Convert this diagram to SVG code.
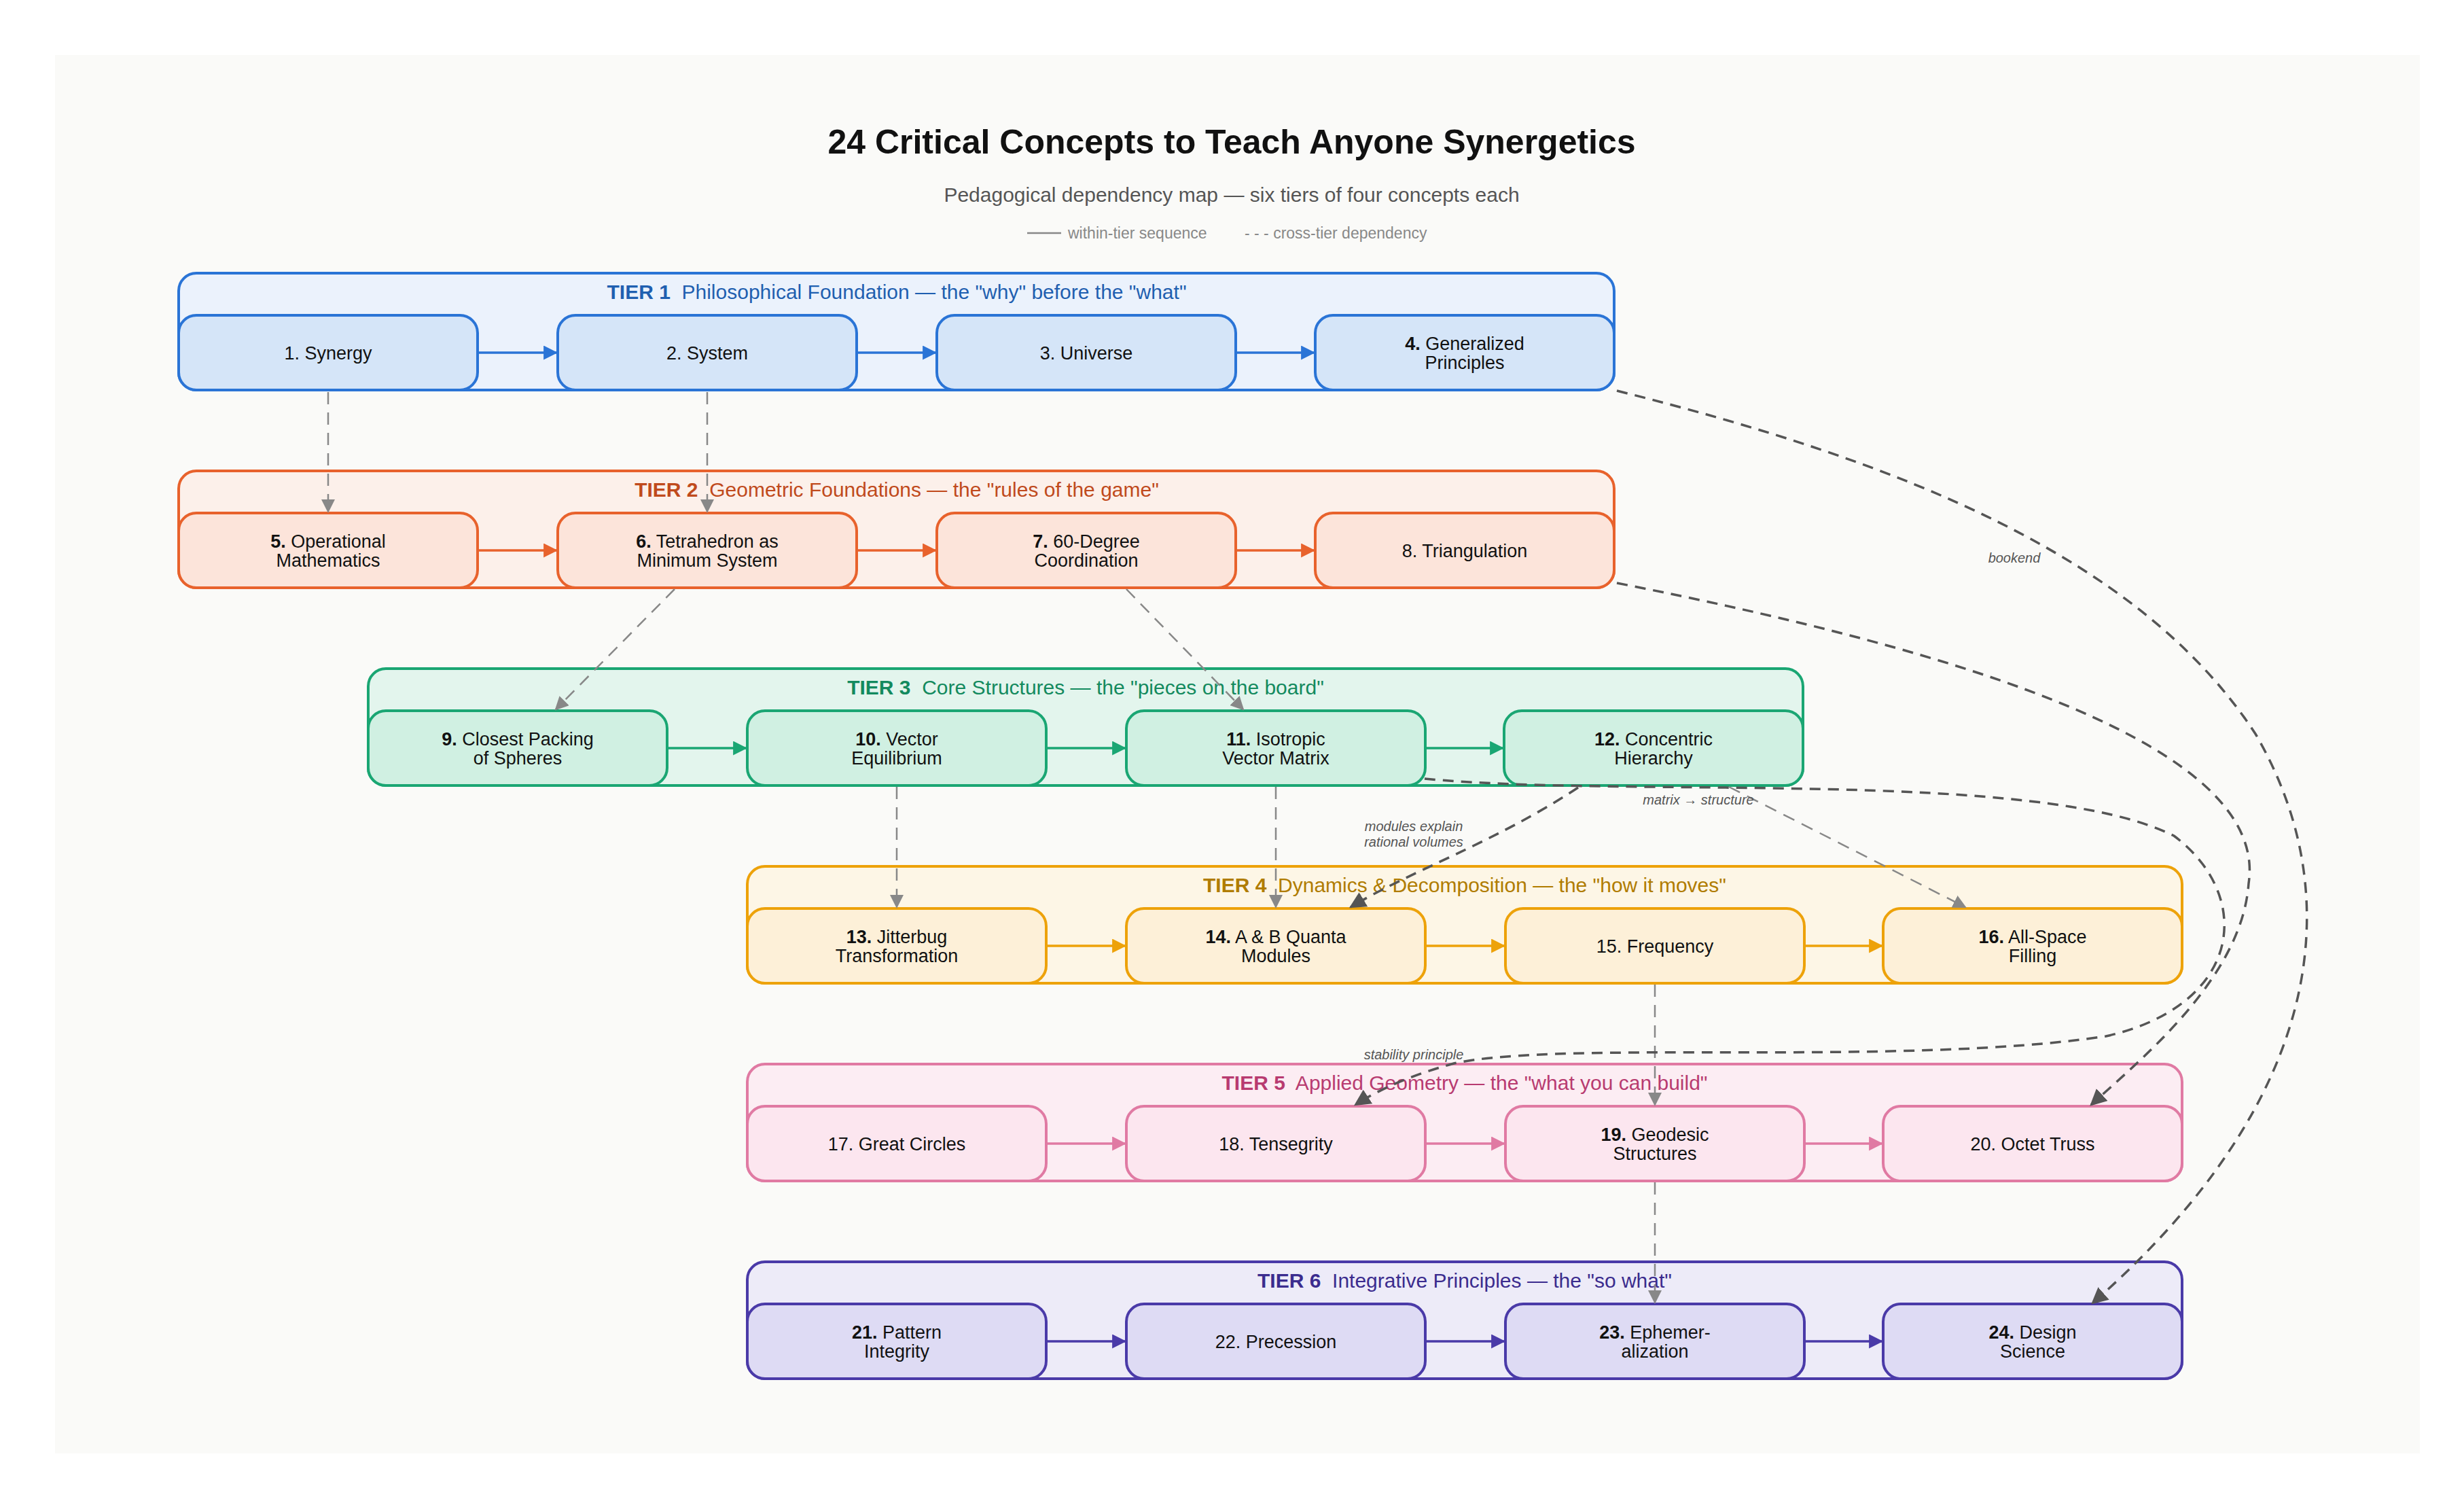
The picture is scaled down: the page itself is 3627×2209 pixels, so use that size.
<svg xmlns="http://www.w3.org/2000/svg" width="3627" height="2209" viewBox="0 0 3627 2209">
<defs>
<style>
text{font-family:"Liberation Sans",Arial,sans-serif}
.nt{font-size:27px;fill:#111;text-anchor:middle}
.hd{font-size:30px;text-anchor:middle}
.lb{font-size:20px;font-style:italic;fill:#555;text-anchor:middle}
.node{stroke-width:4}
.cont{stroke-width:4}
.gd{stroke:#888;stroke-width:2.5;stroke-dasharray:18 12;fill:none}
.dd{stroke:#555;stroke-width:3.5;stroke-dasharray:16 11;fill:none}
</style>
<marker id="mg" viewBox="0 0 10 10" refX="9" refY="5" markerWidth="8" markerHeight="8" orient="auto"><path d="M0,0L10,5L0,10z" fill="#888"/></marker>
<marker id="md" viewBox="0 0 10 10" refX="9" refY="5" markerWidth="7" markerHeight="7" orient="auto"><path d="M0,0L10,5L0,10z" fill="#555"/></marker>
<marker id="m1" viewBox="0 0 10 10" refX="9" refY="5" markerWidth="6" markerHeight="6" orient="auto"><path d="M0,0L10,5L0,10z" fill="#2a74d6"/></marker>
<marker id="m2" viewBox="0 0 10 10" refX="9" refY="5" markerWidth="6" markerHeight="6" orient="auto"><path d="M0,0L10,5L0,10z" fill="#e8622c"/></marker>
<marker id="m3" viewBox="0 0 10 10" refX="9" refY="5" markerWidth="6" markerHeight="6" orient="auto"><path d="M0,0L10,5L0,10z" fill="#1aa673"/></marker>
<marker id="m4" viewBox="0 0 10 10" refX="9" refY="5" markerWidth="6" markerHeight="6" orient="auto"><path d="M0,0L10,5L0,10z" fill="#eda20a"/></marker>
<marker id="m5" viewBox="0 0 10 10" refX="9" refY="5" markerWidth="6" markerHeight="6" orient="auto"><path d="M0,0L10,5L0,10z" fill="#e07aa3"/></marker>
<marker id="m6" viewBox="0 0 10 10" refX="9" refY="5" markerWidth="6" markerHeight="6" orient="auto"><path d="M0,0L10,5L0,10z" fill="#4a3aa8"/></marker>
</defs>
<rect width="3627" height="2209" fill="#ffffff"/>
<rect x="81" y="81" width="3481" height="2058" fill="#fafaf8"/>
<text x="1813" y="226" font-size="50" font-weight="bold" text-anchor="middle" fill="#111">24 Critical Concepts to Teach Anyone Synergetics</text>
<text x="1813" y="297" font-size="30" text-anchor="middle" fill="#555">Pedagogical dependency map — six tiers of four concepts each</text>
<g id="legend">
<line x1="1512" y1="343" x2="1562" y2="343" stroke="#888" stroke-width="2.5"/>
<text x="1572" y="351" font-size="23" fill="#888">within-tier sequence</text>
<text x="1832" y="351" font-size="23" fill="#888">- - - cross-tier dependency</text>
</g>

<g id="tier1">
<rect class="cont" x="263" y="402" width="2113" height="172" rx="26" fill="#ebf2fc" stroke="#2a74d6"/>
<text class="hd" x="1320" y="440" fill="#1f5fb0" xml:space="preserve"><tspan font-weight="bold">TIER 1</tspan>  Philosophical Foundation — the "why" before the "what"</text>
</g>
<g id="n1"><rect class="node" x="263" y="464" width="440" height="110" rx="26" fill="#d5e5f8" stroke="#2a74d6"/><text class="nt" x="483" y="529">1. Synergy</text></g>
<g id="n2"><rect class="node" x="821" y="464" width="440" height="110" rx="26" fill="#d5e5f8" stroke="#2a74d6"/><text class="nt" x="1041" y="529">2. System</text></g>
<g id="n3"><rect class="node" x="1379" y="464" width="440" height="110" rx="26" fill="#d5e5f8" stroke="#2a74d6"/><text class="nt" x="1599" y="529">3. Universe</text></g>
<g id="n4"><rect class="node" x="1936" y="464" width="440" height="110" rx="26" fill="#d5e5f8" stroke="#2a74d6"/><text class="nt" x="2156" y="515"><tspan font-weight="bold">4.</tspan> Generalized</text><text class="nt" x="2156" y="543">Principles</text></g>

<g id="tier2">
<rect class="cont" x="263" y="693" width="2113" height="172" rx="26" fill="#fcf0ea" stroke="#e8622c"/>
<text class="hd" x="1320" y="731" fill="#c04a1c" xml:space="preserve"><tspan font-weight="bold">TIER 2</tspan>  Geometric Foundations — the "rules of the game"</text>
</g>
<g id="n5"><rect class="node" x="263" y="755" width="440" height="110" rx="26" fill="#fce4da" stroke="#e8622c"/><text class="nt" x="483" y="806"><tspan font-weight="bold">5.</tspan> Operational</text><text class="nt" x="483" y="834">Mathematics</text></g>
<g id="n6"><rect class="node" x="821" y="755" width="440" height="110" rx="26" fill="#fce4da" stroke="#e8622c"/><text class="nt" x="1041" y="806"><tspan font-weight="bold">6.</tspan> Tetrahedron as</text><text class="nt" x="1041" y="834">Minimum System</text></g>
<g id="n7"><rect class="node" x="1379" y="755" width="440" height="110" rx="26" fill="#fce4da" stroke="#e8622c"/><text class="nt" x="1599" y="806"><tspan font-weight="bold">7.</tspan> 60-Degree</text><text class="nt" x="1599" y="834">Coordination</text></g>
<g id="n8"><rect class="node" x="1936" y="755" width="440" height="110" rx="26" fill="#fce4da" stroke="#e8622c"/><text class="nt" x="2156" y="820">8. Triangulation</text></g>

<g id="tier3">
<rect class="cont" x="542" y="984" width="2112" height="172" rx="26" fill="#e3f5ed" stroke="#1aa673"/>
<text class="hd" x="1598" y="1022" fill="#138a5e" xml:space="preserve"><tspan font-weight="bold">TIER 3</tspan>  Core Structures — the "pieces on the board"</text>
</g>
<g id="n9"><rect class="node" x="542" y="1046" width="440" height="110" rx="26" fill="#d0f0e2" stroke="#1aa673"/><text class="nt" x="762" y="1097"><tspan font-weight="bold">9.</tspan> Closest Packing</text><text class="nt" x="762" y="1125">of Spheres</text></g>
<g id="n10"><rect class="node" x="1100" y="1046" width="440" height="110" rx="26" fill="#d0f0e2" stroke="#1aa673"/><text class="nt" x="1320" y="1097"><tspan font-weight="bold">10.</tspan> Vector</text><text class="nt" x="1320" y="1125">Equilibrium</text></g>
<g id="n11"><rect class="node" x="1658" y="1046" width="440" height="110" rx="26" fill="#d0f0e2" stroke="#1aa673"/><text class="nt" x="1878" y="1097"><tspan font-weight="bold">11.</tspan> Isotropic</text><text class="nt" x="1878" y="1125">Vector Matrix</text></g>
<g id="n12"><rect class="node" x="2214" y="1046" width="440" height="110" rx="26" fill="#d0f0e2" stroke="#1aa673"/><text class="nt" x="2434" y="1097"><tspan font-weight="bold">12.</tspan> Concentric</text><text class="nt" x="2434" y="1125">Hierarchy</text></g>

<g id="tier4">
<rect class="cont" x="1100" y="1275" width="2112" height="172" rx="26" fill="#fdf6e6" stroke="#eda20a"/>
<text class="hd" x="2156" y="1313" fill="#b07c00" xml:space="preserve"><tspan font-weight="bold">TIER 4</tspan>  Dynamics &amp; Decomposition — the "how it moves"</text>
</g>
<g id="n13"><rect class="node" x="1100" y="1337" width="440" height="110" rx="26" fill="#fdf0d8" stroke="#eda20a"/><text class="nt" x="1320" y="1388"><tspan font-weight="bold">13.</tspan> Jitterbug</text><text class="nt" x="1320" y="1416">Transformation</text></g>
<g id="n14"><rect class="node" x="1658" y="1337" width="440" height="110" rx="26" fill="#fdf0d8" stroke="#eda20a"/><text class="nt" x="1878" y="1388"><tspan font-weight="bold">14.</tspan> A &amp; B Quanta</text><text class="nt" x="1878" y="1416">Modules</text></g>
<g id="n15"><rect class="node" x="2216" y="1337" width="440" height="110" rx="26" fill="#fdf0d8" stroke="#eda20a"/><text class="nt" x="2436" y="1402">15. Frequency</text></g>
<g id="n16"><rect class="node" x="2772" y="1337" width="440" height="110" rx="26" fill="#fdf0d8" stroke="#eda20a"/><text class="nt" x="2992" y="1388"><tspan font-weight="bold">16.</tspan> All-Space</text><text class="nt" x="2992" y="1416">Filling</text></g>

<g id="tier5">
<rect class="cont" x="1100" y="1566" width="2112" height="172" rx="26" fill="#fcedf3" stroke="#e07aa3"/>
<text class="hd" x="2156" y="1604" fill="#b83b70" xml:space="preserve"><tspan font-weight="bold">TIER 5</tspan>  Applied Geometry — the "what you can build"</text>
</g>
<g id="n17"><rect class="node" x="1100" y="1628" width="440" height="110" rx="26" fill="#fce6ef" stroke="#e07aa3"/><text class="nt" x="1320" y="1693">17. Great Circles</text></g>
<g id="n18"><rect class="node" x="1658" y="1628" width="440" height="110" rx="26" fill="#fce6ef" stroke="#e07aa3"/><text class="nt" x="1878" y="1693">18. Tensegrity</text></g>
<g id="n19"><rect class="node" x="2216" y="1628" width="440" height="110" rx="26" fill="#fce6ef" stroke="#e07aa3"/><text class="nt" x="2436" y="1679"><tspan font-weight="bold">19.</tspan> Geodesic</text><text class="nt" x="2436" y="1707">Structures</text></g>
<g id="n20"><rect class="node" x="2772" y="1628" width="440" height="110" rx="26" fill="#fce6ef" stroke="#e07aa3"/><text class="nt" x="2992" y="1693">20. Octet Truss</text></g>

<g id="tier6">
<rect class="cont" x="1100" y="1857" width="2112" height="172" rx="26" fill="#edebf8" stroke="#4a3aa8"/>
<text class="hd" x="2156" y="1895" fill="#3b2c8e" xml:space="preserve"><tspan font-weight="bold">TIER 6</tspan>  Integrative Principles — the "so what"</text>
</g>
<g id="n21"><rect class="node" x="1100" y="1919" width="440" height="110" rx="26" fill="#dedbf4" stroke="#4a3aa8"/><text class="nt" x="1320" y="1970"><tspan font-weight="bold">21.</tspan> Pattern</text><text class="nt" x="1320" y="1998">Integrity</text></g>
<g id="n22"><rect class="node" x="1658" y="1919" width="440" height="110" rx="26" fill="#dedbf4" stroke="#4a3aa8"/><text class="nt" x="1878" y="1984">22. Precession</text></g>
<g id="n23"><rect class="node" x="2216" y="1919" width="440" height="110" rx="26" fill="#dedbf4" stroke="#4a3aa8"/><text class="nt" x="2436" y="1970"><tspan font-weight="bold">23.</tspan> Ephemer-</text><text class="nt" x="2436" y="1998">alization</text></g>
<g id="n24"><rect class="node" x="2772" y="1919" width="440" height="110" rx="26" fill="#dedbf4" stroke="#4a3aa8"/><text class="nt" x="2992" y="1970"><tspan font-weight="bold">24.</tspan> Design</text><text class="nt" x="2992" y="1998">Science</text></g>

<g id="connectors" fill="none">
<g stroke="#2a74d6" stroke-width="3.5" marker-end="url(#m1)"><line x1="703" y1="519" x2="819" y2="519"/><line x1="1261" y1="519" x2="1377" y2="519"/><line x1="1819" y1="519" x2="1934" y2="519"/></g>
<g stroke="#e8622c" stroke-width="3.5" marker-end="url(#m2)"><line x1="703" y1="810" x2="819" y2="810"/><line x1="1261" y1="810" x2="1377" y2="810"/><line x1="1819" y1="810" x2="1934" y2="810"/></g>
<g stroke="#1aa673" stroke-width="3.5" marker-end="url(#m3)"><line x1="982" y1="1101" x2="1098" y2="1101"/><line x1="1540" y1="1101" x2="1656" y2="1101"/><line x1="2098" y1="1101" x2="2212" y2="1101"/></g>
<g stroke="#eda20a" stroke-width="3.5" marker-end="url(#m4)"><line x1="1540" y1="1392" x2="1656" y2="1392"/><line x1="2098" y1="1392" x2="2214" y2="1392"/><line x1="2656" y1="1392" x2="2770" y2="1392"/></g>
<g stroke="#e07aa3" stroke-width="3.5" marker-end="url(#m5)"><line x1="1540" y1="1683" x2="1656" y2="1683"/><line x1="2098" y1="1683" x2="2214" y2="1683"/><line x1="2656" y1="1683" x2="2770" y2="1683"/></g>
<g stroke="#4a3aa8" stroke-width="3.5" marker-end="url(#m6)"><line x1="1540" y1="1974" x2="1656" y2="1974"/><line x1="2098" y1="1974" x2="2214" y2="1974"/><line x1="2656" y1="1974" x2="2770" y2="1974"/></g>

<g marker-end="url(#mg)">
<line class="gd" x1="483" y1="577" x2="483" y2="753"/>
<line class="gd" x1="1041" y1="577" x2="1041" y2="753"/>
<line class="gd" x1="993" y1="867" x2="818" y2="1044"/>
<line class="gd" x1="1658" y1="867" x2="1830" y2="1044"/>
<line class="gd" x1="1320" y1="1158" x2="1320" y2="1335"/>
<line class="gd" x1="1878" y1="1158" x2="1878" y2="1335"/>
<line class="gd" x1="2545" y1="1158" x2="2893" y2="1335"/>
<line class="gd" x1="2436" y1="1449" x2="2436" y2="1626"/>
<line class="gd" x1="2436" y1="1740" x2="2436" y2="1917"/>
</g>
<g marker-end="url(#md)">
<path class="dd" d="M2380,575 C2800,680 3150,820 3320,1080 C3460,1320 3420,1620 3080,1918"/>
<path class="dd" d="M2380,858 C2900,960 3340,1100 3310,1300 C3300,1440 3150,1560 3078,1626"/>
<path class="dd" d="M2097,1146 C2400,1175 3000,1130 3200,1230 C3320,1320 3300,1480 3100,1525 C2800,1570 2300,1530 2140,1565 Q2050,1590 1995,1626"/>
<path class="dd" d="M2323,1159 C2200,1240 2080,1280 1988,1335"/>
</g>
<text class="lb" x="2965" y="828">bookend</text>
<text class="lb" x="2500" y="1184">matrix → structure</text>
<text class="lb" x="2081" y="1223">modules explain</text>
<text class="lb" x="2081" y="1246">rational volumes</text>
<text class="lb" x="2081" y="1559">stability principle</text>
</g>
</svg>
